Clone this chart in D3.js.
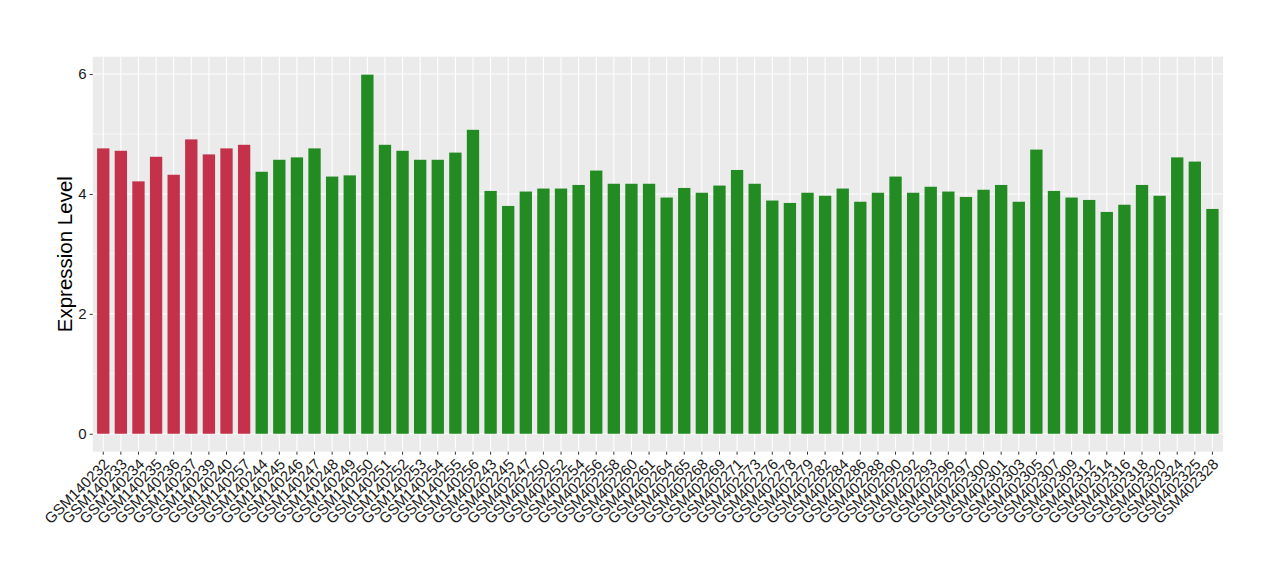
<!DOCTYPE html>
<meta charset="utf-8">
<style>
    body {
        margin: 0;
        background: #ffffff;
        font-family: "Liberation Sans", Arial, sans-serif;
    }

    .grid-major line {
        stroke: #ffffff;
        stroke-width: 1.1px;
    }

    .grid-minor line {
        stroke: #ffffff;
        stroke-width: 0.55px;
    }

    .axis path {
        display: none;
    }

    .axis line {
        stroke: #333333;
    }

    .axis text {
        fill: #1a1a1a;
        font-size: 15px;
    }

    .x-axis text {
        font-size: 15px;
    }
</style>

<body>
    <svg id="chart" width="1280" height="580"></svg>

    <script src="https://cdnjs.cloudflare.com/ajax/libs/d3/7.8.5/d3.min.js"></script>

    <script>
        // sample ids along the x axis
        var samples = [
            "GSM140232", "GSM140233", "GSM140234", "GSM140235", "GSM140236", "GSM140237", "GSM140239", "GSM140240", "GSM140257",
            "GSM140244", "GSM140245", "GSM140246", "GSM140247", "GSM140248", "GSM140249", "GSM140250", "GSM140251", "GSM140252",
            "GSM140253", "GSM140254", "GSM140255", "GSM140256",
            "GSM402243", "GSM402245", "GSM402247", "GSM402250", "GSM402252", "GSM402254", "GSM402256", "GSM402258", "GSM402260",
            "GSM402261", "GSM402264", "GSM402265", "GSM402268", "GSM402269", "GSM402271", "GSM402273", "GSM402276", "GSM402278",
            "GSM402279", "GSM402282", "GSM402284", "GSM402286", "GSM402288", "GSM402290", "GSM402292", "GSM402293", "GSM402296",
            "GSM402297", "GSM402300", "GSM402301", "GSM402303", "GSM402305", "GSM402307", "GSM402309", "GSM402312", "GSM402314",
            "GSM402316", "GSM402318", "GSM402320", "GSM402324", "GSM402325", "GSM402328"
        ];

        // expression level per sample
        var values = [
            4.76, 4.72, 4.21, 4.62, 4.32, 4.91, 4.66, 4.76, 4.82,
            4.37, 4.57, 4.61, 4.76, 4.29, 4.31, 5.99, 4.82, 4.72,
            4.57, 4.57, 4.69, 5.07,
            4.05, 3.80, 4.04, 4.09, 4.09, 4.15, 4.39, 4.17, 4.17,
            4.17, 3.94, 4.10, 4.02, 4.14, 4.40, 4.17, 3.89, 3.85,
            4.02, 3.97, 4.09, 3.87, 4.02, 4.29, 4.02, 4.12, 4.04,
            3.95, 4.07, 4.15, 3.87, 4.74, 4.05, 3.94, 3.90, 3.70,
            3.82, 4.15, 3.97, 4.61, 4.54, 3.75
        ];

        // group of each sample (first nine are the red group)
        var groups = samples.map(function (s, i) { return i < 9 ? "group1" : "group2"; });

        var groupNames = ["group1", "group2"];
        var yTicks = [0, 2, 4, 6];
        var yMinorTicks = [1, 3, 5];
        var yTitle = "Expression Level";

        var renderChart = function () {
            var svg = d3.select("#chart");

            var panel = { left: 92.7, right: 1223, top: 56.7, bottom: 451.7 };

            var data = samples.map(function (s, i) {
                return { sample: s, value: values[i], group: groups[i] };
            });

            var x = d3.scaleBand()
                .domain(samples)
                .range([panel.left, panel.right])
                .paddingInner(0.3)
                .paddingOuter(0.25);

            var maxV = d3.max(values);
            var pad = maxV * 0.05;
            var y = d3.scaleLinear()
                .domain([-pad, maxV + pad])
                .range([panel.bottom, panel.top]);

            var color = d3.scaleOrdinal()
                .domain(groupNames)
                .range(["#C3314A", "#228B22"]);

            // panel background
            svg.append("rect")
                .attr("x", panel.left)
                .attr("y", panel.top)
                .attr("width", panel.right - panel.left)
                .attr("height", panel.bottom - panel.top)
                .attr("fill", "#EBEBEB");

            // grid lines
            svg.append("g")
                .attr("class", "grid-minor")
                .selectAll("line")
                .data(yMinorTicks)
                .enter().append("line")
                .attr("x1", panel.left)
                .attr("x2", panel.right)
                .attr("y1", function (d) { return y(d); })
                .attr("y2", function (d) { return y(d); });

            svg.append("g")
                .attr("class", "grid-major")
                .selectAll("line")
                .data(yTicks)
                .enter().append("line")
                .attr("x1", panel.left)
                .attr("x2", panel.right)
                .attr("y1", function (d) { return y(d); })
                .attr("y2", function (d) { return y(d); });

            svg.append("g")
                .attr("class", "grid-major")
                .selectAll("line")
                .data(samples)
                .enter().append("line")
                .attr("x1", function (d) { return x(d) + x.bandwidth() / 2; })
                .attr("x2", function (d) { return x(d) + x.bandwidth() / 2; })
                .attr("y1", panel.top)
                .attr("y2", panel.bottom);

            // bars
            svg.append("g")
                .selectAll("rect")
                .data(data)
                .enter().append("rect")
                .attr("x", function (d) { return x(d.sample); })
                .attr("width", x.bandwidth())
                .attr("y", function (d) { return y(d.value); })
                .attr("height", function (d) { return y(0) - y(d.value); })
                .attr("fill", function (d) { return color(d.group); });

            // y axis
            svg.append("g")
                .attr("class", "axis")
                .attr("transform", "translate(" + panel.left + ",0)")
                .call(d3.axisLeft(y).tickValues(yTicks).tickSize(3).tickPadding(3).tickFormat(d3.format("d")));

            // x axis
            var xAxis = svg.append("g")
                .attr("class", "axis x-axis")
                .attr("transform", "translate(0," + panel.bottom + ")")
                .call(d3.axisBottom(x).tickSize(3).tickPadding(2));

            xAxis.selectAll("text")
                .attr("x", 0)
                .attr("y", 0)
                .attr("dy", "0.7em")
                .attr("text-anchor", "end")
                .attr("transform", "translate(-0.5,6) rotate(-45)");

            // y title
            svg.append("text")
                .attr("transform", "translate(72," + (panel.top + panel.bottom) / 2 + ") rotate(-90)")
                .attr("text-anchor", "middle")
                .style("font-size", "20.5px")
                .style("fill", "#000000")
                .text(yTitle);
        }
        renderChart();
    </script>
</body>
